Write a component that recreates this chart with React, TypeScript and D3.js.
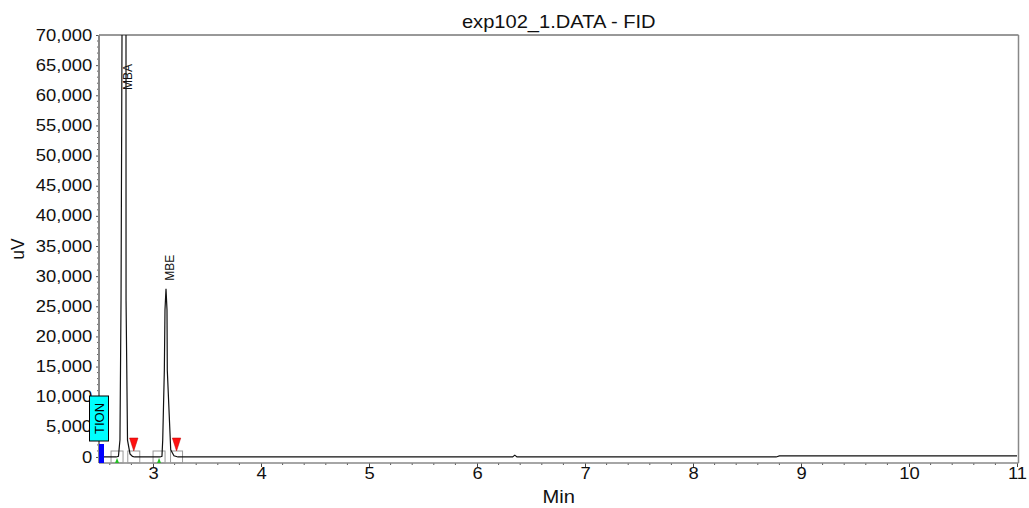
import React, { useRef, useEffect } from 'react';
import * as d3 from 'd3';

// chromatogram trace (time in min, signal in uV)
const traceTimes = [2.5, 2.66, 2.68, 2.694, 2.704, 2.713, 2.73, 2.75, 2.7505, 2.764, 2.787, 2.81, 2.83,
  3.065, 3.083, 3.09, 3.105, 3.111, 3.1204, 3.1296, 3.1324, 3.164, 3.194, 3.231,
  6.33, 6.35, 6.37, 8.77, 8.8, 11];
const traceValues = [0, 0, 100, 2800, 26000, 70000, 120000, 70000, 26000, 2800, 500, 100, 0,
  0, 100, 2800, 14400, 24400, 27900, 24400, 14400, 1200, 200, 0,
  0, 300, 0, 0, 180, 180];

const peakNames = ['MBA', 'MBE'];
const peakTimes = [2.73, 3.12];
const peakHeights = [70000, 27900];
const peakStarts = [2.667, 3.056];
const peakEnds = [2.822, 3.218];

const eventName = 'TION';
const eventTime = 2.5;

const yTicks = [0, 5000, 10000, 15000, 20000, 25000, 30000, 35000, 40000, 45000, 50000, 55000, 60000, 65000, 70000];
const xTicks = [3, 4, 5, 6, 7, 8, 9, 10, 11];

const FONT = '"Liberation Sans", Arial, sans-serif';
const STRETCH = 'scale(1.15,1)';

function Chromatogram() {
  const ref = useRef<SVGSVGElement>(null);

  useEffect(() => {
    const svg = d3.select(ref.current);
    svg.selectAll('*').remove();

    const width = 1029;
    const height = 508;
    const margin = { top: 35, right: 12, bottom: 45, left: 99 };

    const x = d3.scaleLinear().domain([2.5, 11]).range([margin.left, width - margin.right]);
    const y = d3.scaleLinear().domain([-1000, 70000]).range([height - margin.bottom, margin.top]);
    const x0 = margin.left, x1 = width - margin.right + 1.5;
    const yTop = margin.top, yBot = height - margin.bottom;

    svg.append('rect').attr('width', width).attr('height', height).attr('fill', '#fff');

    // title
    svg.append('text')
      .attr('transform', `translate(${(x0 + x1) / 2},28) ${STRETCH}`)
      .attr('text-anchor', 'middle')
      .style('font-family', FONT).style('font-size', '17.5px').attr('fill', '#111')
      .text('exp102_1.DATA - FID');

    // frame
    svg.append('path')
      .attr('d', `M${x0},${yTop}H${x1}V${yBot}`)
      .attr('fill', 'none').attr('stroke', '#333').attr('stroke-width', 1);
    svg.append('line').attr('x1', x1).attr('x2', x1).attr('y1', yTop).attr('y2', yBot)
      .attr('stroke', '#888').attr('stroke-width', 1.5);

    // y axis
    const yAxis = d3.axisLeft(y).tickValues(yTicks).tickSize(3).tickPadding(3).tickFormat(d3.format(','));
    const gy = svg.append('g').attr('transform', `translate(${x0},0)`).call(yAxis);
    gy.select('.domain').remove();
    gy.selectAll('line').attr('stroke', '#555');
    gy.selectAll('text')
      .attr('transform', STRETCH)
      .style('font-family', FONT).style('font-size', '16px').attr('fill', '#111');
    const yMinor = d3.range(1000, 70000, 1000).filter(v => v % 5000 !== 0);
    svg.append('g').selectAll('line').data(yMinor).enter().append('line')
      .attr('x1', x0 - 2).attr('x2', x0).attr('y1', d => y(d)).attr('y2', d => y(d))
      .attr('stroke', '#666').attr('stroke-width', 1);
    svg.append('line').attr('x1', x0).attr('x2', x0).attr('y1', yTop).attr('y2', yBot)
      .attr('stroke', '#888').attr('stroke-width', 2);

    // x axis
    const xAxis = d3.axisBottom(x).tickValues(xTicks).tickSize(4).tickPadding(1).tickFormat(d3.format('d'));
    const gx = svg.append('g').attr('transform', `translate(0,${yBot})`).call(xAxis);
    gx.select('.domain').remove();
    gx.selectAll('line').attr('stroke', '#444');
    gx.selectAll('text')
      .attr('transform', STRETCH)
      .style('font-family', FONT).style('font-size', '16px').attr('fill', '#111');
    const xMinor = d3.range(2.6, 11, 0.2).filter(v => Math.abs(v - Math.round(v)) > 0.01);
    svg.append('g').selectAll('line').data(xMinor).enter().append('line')
      .attr('x1', d => x(d)).attr('x2', d => x(d)).attr('y1', yBot).attr('y2', yBot + 2)
      .attr('stroke', '#555').attr('stroke-width', 1);
    svg.append('line').attr('x1', x0).attr('x2', x1).attr('y1', yBot).attr('y2', yBot)
      .attr('stroke', '#888').attr('stroke-width', 1.5);

    // axis titles
    svg.append('text')
      .attr('transform', `translate(${(x0 + x1) / 2},503) ${STRETCH}`)
      .attr('text-anchor', 'middle')
      .style('font-family', FONT).style('font-size', '17.5px').attr('fill', '#111')
      .text('Min');
    svg.append('text')
      .attr('transform', `translate(24,${(yTop + yBot) / 2}) rotate(-90)`)
      .attr('text-anchor', 'middle')
      .style('font-family', FONT).style('font-size', '17.5px').attr('fill', '#111')
      .text('uV');

    // clip
    svg.append('clipPath').attr('id', 'plot-clip')
      .append('rect').attr('x', x0).attr('y', yTop).attr('width', x1 - x0).attr('height', yBot - yTop);

    // baseline markers (squares at peak start / end)
    const marks = peakStarts.concat(peakEnds);
    svg.append('g').selectAll('rect').data(marks).enter().append('rect')
      .attr('x', d => x(d) - 6).attr('y', yBot - 12).attr('width', 12).attr('height', 12)
      .attr('fill', 'none').attr('stroke', '#999').attr('stroke-width', 1);

    // trace
    const pts = traceTimes.map((t, i) => [t, traceValues[i]] as [number, number]);
    const line = d3.line<[number, number]>().x(d => x(d[0])).y(d => y(d[1]));
    svg.append('path')
      .datum(pts)
      .attr('clip-path', 'url(#plot-clip)')
      .attr('d', line)
      .attr('fill', 'none').attr('stroke', '#111').attr('stroke-width', 1.2);

    // start markers (green) and end markers (red)
    svg.append('g').selectAll('path').data(peakStarts).enter().append('path')
      .attr('d', d => `M${x(d) - 2},${yBot}L${x(d) + 2},${yBot}L${x(d)},${yBot - 5}Z`)
      .attr('fill', '#22c022');
    svg.append('g').selectAll('path').data(peakEnds).enter().append('path')
      .attr('d', d => `M${x(d) - 4.2},${yBot - 25}L${x(d) + 4.2},${yBot - 25}L${x(d)},${yBot - 12}Z`)
      .attr('fill', '#ff1010').attr('stroke', '#b00').attr('stroke-width', 0.5);

    // peak names
    svg.append('g').selectAll('text').data(peakNames).enter().append('text')
      .attr('transform', (d, i) => {
        const px = x(peakTimes[i]) + 4;
        const py = peakHeights[i] >= 70000 ? y(70000) + 55 : y(peakHeights[i]) - 8;
        return `translate(${px + 4},${py}) rotate(-90)`;
      })
      .style('font-family', FONT).style('font-size', '12px').attr('fill', '#111')
      .text(d => d);

    // timed event
    const ex = x(eventTime);
    svg.append('rect').attr('x', ex).attr('y', 444).attr('width', 5).attr('height', yBot - 444)
      .attr('fill', '#0000ff');
    svg.append('rect').attr('x', ex - 9.5).attr('y', 396).attr('width', 19).attr('height', 45)
      .attr('fill', '#00ffff').attr('stroke', '#000').attr('stroke-width', 1);
    svg.append('text')
      .attr('transform', `translate(${ex + 4.5},418.5) rotate(-90)`)
      .attr('text-anchor', 'middle')
      .style('font-family', FONT).style('font-size', '13px').attr('fill', '#000')
      .text(eventName);
  }, []);

  return <svg ref={ref} width={1029} height={508} style={{ position: 'absolute', left: 0, top: 0 }}></svg>;
}

export default function App() {
  return <Chromatogram />;
}
